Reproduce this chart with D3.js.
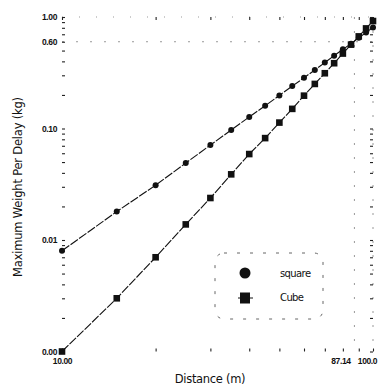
<!DOCTYPE html>
<html>
<head>
<meta charset="utf-8">
<script src="https://cdn.jsdelivr.net/npm/d3@7"></script>
<style>
  html, body { margin: 0; padding: 0; background: #fff; }
  svg { display: block; }
  text { font-family: "DejaVu Sans", Verdana, sans-serif; fill: #111; }
</style>
</head>
<body>
<svg id="chart" width="382" height="390"></svg>
<script>
const distance = [10, 15, 20, 25, 30, 35, 40, 45, 50, 55, 60, 65, 70, 75, 80, 85, 90, 95, 100];
const squareVals = [0.0080, 0.018, 0.031, 0.049, 0.071, 0.097, 0.127, 0.160, 0.198, 0.240, 0.285, 0.335, 0.390, 0.450, 0.513, 0.575, 0.650, 0.725, 0.805];
const cubeVals = [0.00100, 0.0030, 0.0070, 0.0138, 0.0238, 0.0388, 0.059, 0.082, 0.113, 0.150, 0.197, 0.251, 0.313, 0.385, 0.470, 0.565, 0.670, 0.790, 0.920];
const seriesNames = ["square", "Cube"];
const xTickValues = [10, 87.14, 100];
const xTickLabels = ["10.00", "87.14", "100.0"];
const yTickValues = [0.001, 0.01, 0.1, 0.6, 1];
const yTickLabels = ["0.00", "0.01", "0.10", "0.60", "1.00"];
const xTitle = "Distance (m)";
const yTitle = "Maximum Weight Per Delay (kg)";

const svg = d3.select("#chart");
const pLeft = 62, pRight = 373, pTop = 17, pBottom = 351.5;
const x = d3.scaleLog().domain([10, 100]).range([pLeft, pRight]);
const y = d3.scaleLog().domain([0.001, 1]).range([pBottom, pTop]);

// faint dashed guide lines (special ticks and right frame)
const guides = svg.append("g").attr("stroke", "#999").attr("stroke-width", 1)
  .attr("stroke-dasharray", "2,12").attr("fill", "none");
guides.append("line").attr("x1", x(87.14)).attr("x2", x(87.14)).attr("y1", pTop).attr("y2", pBottom);
guides.append("line").attr("x1", x(100)).attr("x2", x(100)).attr("y1", pTop).attr("y2", pBottom);
guides.append("line").attr("x1", pLeft).attr("x2", pRight).attr("y1", y(0.6)).attr("y2", y(0.6));
guides.append("line").attr("x1", pLeft).attr("x2", pRight).attr("y1", pTop).attr("y2", pTop).attr("stroke-dasharray", "1,16");

// minor tick marks on all four sides
const xMinor = x.ticks();
const yMinor = y.ticks();
function tickAxis(axis, transform) {
  const g = svg.append("g").attr("transform", transform)
    .call(axis.tickSize(-3).tickFormat(""));
  g.select(".domain").remove();
  g.selectAll(".tick line").attr("stroke", "#222").attr("stroke-width", 1.1);
  return g;
}
tickAxis(d3.axisBottom(x).tickValues(xMinor), `translate(0,${pBottom})`);
tickAxis(d3.axisTop(x).tickValues(xMinor), `translate(0,${pTop})`);
tickAxis(d3.axisLeft(y).tickValues(yMinor), `translate(${pLeft},0)`);
tickAxis(d3.axisRight(y).tickValues(yMinor), `translate(${pRight},0)`);

// tick labels
const xAxis = svg.append("g").attr("transform", `translate(0,${pBottom})`)
  .call(d3.axisBottom(x).tickValues(xTickValues).tickSize(0).tickPadding(6)
    .tickFormat((d, i) => xTickLabels[i]));
xAxis.select(".domain").remove();
xAxis.selectAll("text").style("font-family", "'Liberation Sans', Arial, sans-serif")
  .attr("font-size", 8.5).attr("font-weight", "bold").attr("letter-spacing", "-0.4")
  .attr("dx", (d, i) => [0, -14, -6][i]);

const yAxis = svg.append("g").attr("transform", `translate(${pLeft},0)`)
  .call(d3.axisLeft(y).tickValues(yTickValues).tickSize(0).tickPadding(5)
    .tickFormat((d, i) => yTickLabels[i]));
yAxis.select(".domain").remove();
yAxis.selectAll("text").style("font-family", "'Liberation Sans', Arial, sans-serif")
  .attr("font-size", 8.5).attr("font-weight", "bold").attr("letter-spacing", "-0.4");

// lines
const line = d3.line().x(d => x(d[0])).y(d => y(d[1]));
const sqData = distance.map((d, i) => [d, squareVals[i]]);
const cuData = distance.map((d, i) => [d, cubeVals[i]]);
[sqData, cuData].forEach(data => {
  svg.append("path").datum(data).attr("d", line)
    .attr("fill", "none").attr("stroke", "#111").attr("stroke-width", 1.1)
    .attr("stroke-dasharray", "9,1.5");
});

// markers
svg.append("g").selectAll("circle").data(sqData).join("circle")
  .attr("cx", d => x(d[0])).attr("cy", d => y(d[1])).attr("r", 3).attr("fill", "#111");
svg.append("g").selectAll("rect").data(cuData).join("rect")
  .attr("x", d => x(d[0]) - 3.3).attr("y", d => y(d[1]) - 3.3)
  .attr("width", 6.6).attr("height", 6.6).attr("fill", "#111");

// legend
const lg = svg.append("g");
lg.append("rect").attr("x", 215).attr("y", 253).attr("width", 108).attr("height", 66)
  .attr("rx", 9).attr("ry", 9).attr("fill", "none").attr("stroke", "#666")
  .attr("stroke-width", 1).attr("stroke-dasharray", "3,10");
lg.append("circle").attr("cx", 245).attr("cy", 273).attr("r", 5.5).attr("fill", "#111");
lg.append("line").attr("x1", 238).attr("x2", 253).attr("y1", 298).attr("y2", 298).attr("stroke", "#111");
lg.append("rect").attr("x", 240).attr("y", 292.5).attr("width", 10).attr("height", 11).attr("fill", "#111");
lg.selectAll("text.lbl").data(seriesNames).join("text").attr("class", "lbl")
  .attr("x", 280).attr("y", (d, i) => [277, 301][i])
  .attr("font-size", 10).attr("letter-spacing", "-0.6").text(d => d);

// axis titles
svg.append("text").attr("x", 210).attr("y", 383).attr("text-anchor", "middle")
  .attr("font-size", 11.5).attr("letter-spacing", "-0.3").text(xTitle);
svg.append("text").attr("transform", "translate(22,187) rotate(-90)").attr("text-anchor", "middle")
  .attr("font-size", 11.5).attr("letter-spacing", "-0.2").text(yTitle);
</script>
</body>
</html>
